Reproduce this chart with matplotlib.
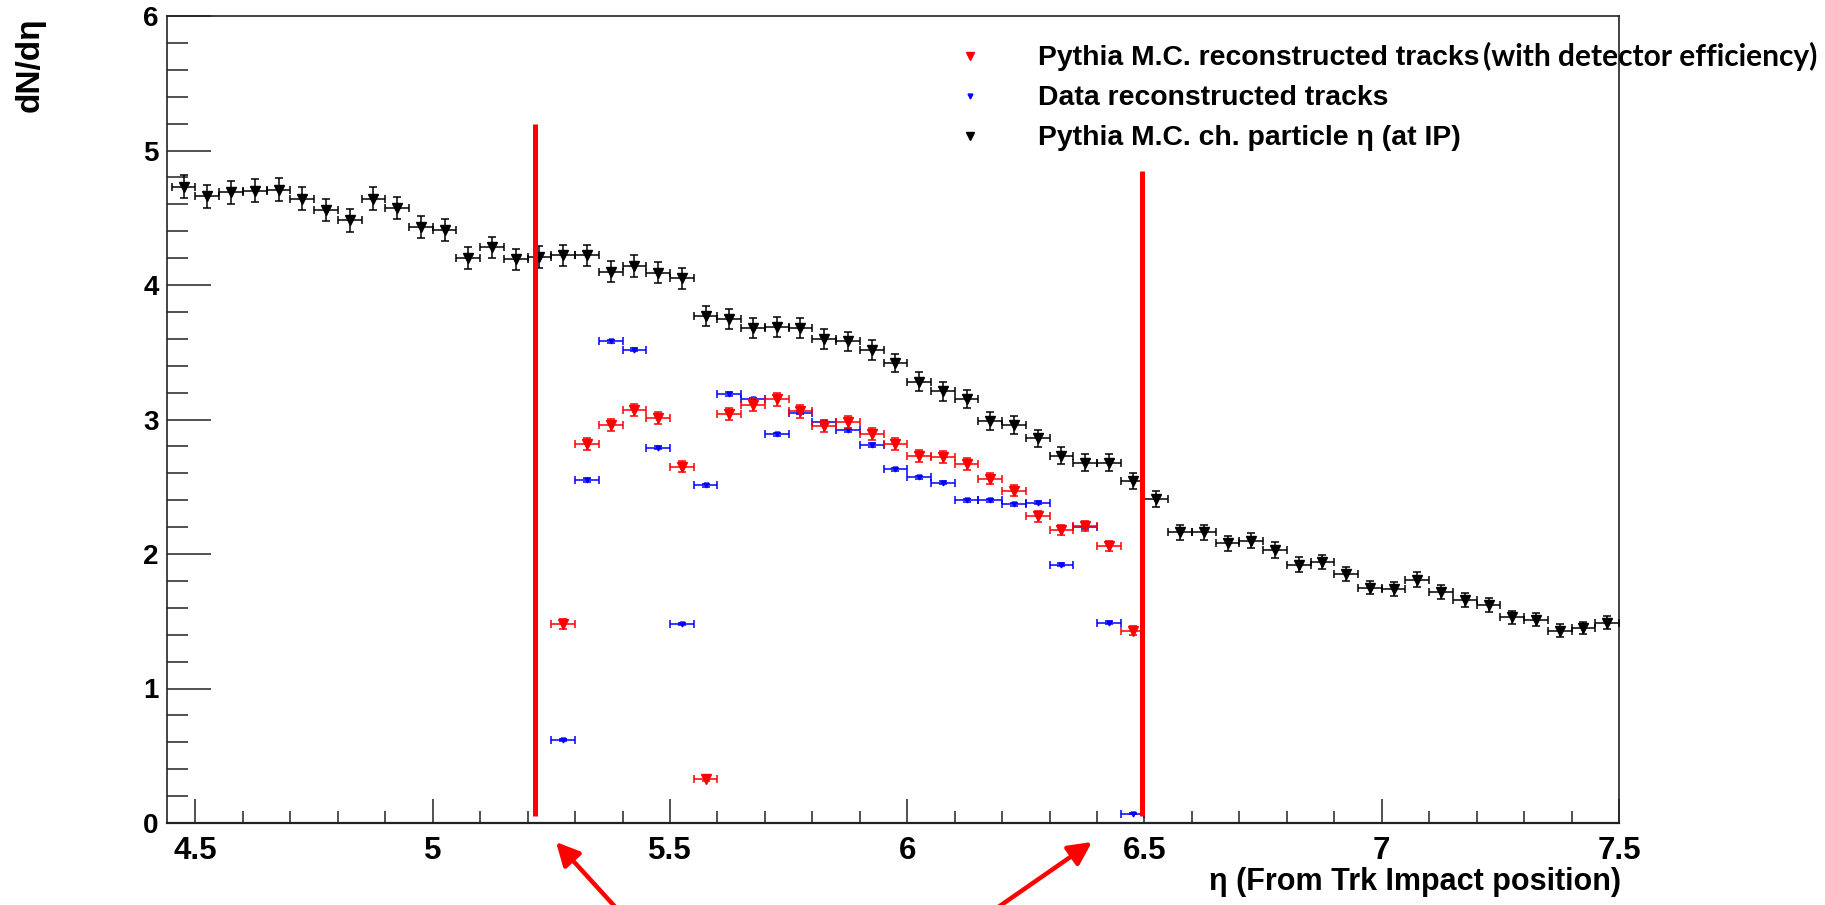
import matplotlib
matplotlib.use("Agg")
import matplotlib.pyplot as plt
from matplotlib.lines import Line2D
from matplotlib.ticker import MultipleLocator, FuncFormatter

W, H = 1825, 905

# bin centres, bin width 0.05
eta_full = [4.475, 4.525, 4.575, 4.625, 4.675, 4.725, 4.775, 4.825, 4.875, 4.925,
            4.975, 5.025, 5.075, 5.125, 5.175, 5.225, 5.275, 5.325, 5.375, 5.425,
            5.475, 5.525, 5.575, 5.625, 5.675, 5.725, 5.775, 5.825, 5.875, 5.925,
            5.975, 6.025, 6.075, 6.125, 6.175, 6.225, 6.275, 6.325, 6.375, 6.425,
            6.475, 6.525, 6.575, 6.625, 6.675, 6.725, 6.775, 6.825, 6.875, 6.925,
            6.975, 7.025, 7.075, 7.125, 7.175, 7.225, 7.275, 7.325, 7.375, 7.425,
            7.475]
dndeta_gen = [4.73, 4.66, 4.69, 4.70, 4.71, 4.64, 4.56, 4.48, 4.64, 4.57,
              4.43, 4.41, 4.20, 4.28, 4.19, 4.21, 4.22, 4.22, 4.10, 4.14,
              4.09, 4.05, 3.77, 3.75, 3.68, 3.69, 3.68, 3.60, 3.58, 3.52,
              3.42, 3.28, 3.21, 3.15, 2.99, 2.96, 2.86, 2.73, 2.68, 2.68,
              2.54, 2.41, 2.16, 2.16, 2.08, 2.10, 2.03, 1.92, 1.94, 1.85,
              1.75, 1.74, 1.81, 1.72, 1.66, 1.62, 1.53, 1.51, 1.43, 1.45,
              1.49]
err_gen = [0.085, 0.085, 0.085, 0.085, 0.085, 0.085, 0.083, 0.083, 0.085, 0.083,
           0.083, 0.083, 0.080, 0.080, 0.080, 0.080, 0.080, 0.080, 0.078, 0.080,
           0.078, 0.078, 0.074, 0.074, 0.074, 0.074, 0.074, 0.074, 0.074, 0.074,
           0.070, 0.070, 0.070, 0.067, 0.067, 0.067, 0.064, 0.064, 0.064, 0.064,
           0.060, 0.060, 0.057, 0.057, 0.057, 0.057, 0.057, 0.054, 0.054, 0.054,
           0.051, 0.051, 0.054, 0.051, 0.051, 0.051, 0.048, 0.048, 0.048, 0.048,
           0.048]

eta_reco = [5.275, 5.325, 5.375, 5.425, 5.475, 5.525, 5.575, 5.625, 5.675, 5.725,
            5.775, 5.825, 5.875, 5.925, 5.975, 6.025, 6.075, 6.125, 6.175, 6.225,
            6.275, 6.325, 6.375, 6.425, 6.475]
dndeta_mc_reco = [1.48, 2.82, 2.96, 3.07, 3.01, 2.65, 0.33, 3.04, 3.11, 3.15,
                  3.06, 2.95, 2.98, 2.89, 2.82, 2.73, 2.72, 2.67, 2.56, 2.47,
                  2.28, 2.18, 2.21, 2.06, 1.43]
err_mc_reco = [0.035, 0.045, 0.045, 0.047, 0.047, 0.043, 0.020, 0.047, 0.047, 0.048,
               0.047, 0.045, 0.045, 0.045, 0.045, 0.044, 0.044, 0.043, 0.042, 0.042,
               0.040, 0.039, 0.039, 0.038, 0.032]
dndeta_data = [0.62, 2.55, 3.58, 3.52, 2.79, 1.48, 2.51, 3.19, 3.15, 2.89,
               3.05, 2.98, 2.92, 2.81, 2.63, 2.57, 2.53, 2.40, 2.40, 2.37,
               2.38, 1.92, 2.20, 1.49, 0.07]
err_data = [0.008, 0.012, 0.014, 0.014, 0.012, 0.010, 0.012, 0.013, 0.013, 0.012,
            0.012, 0.012, 0.012, 0.012, 0.012, 0.012, 0.012, 0.011, 0.011, 0.011,
            0.011, 0.010, 0.011, 0.009, 0.004]
half_bin = 0.025

# acceptance cut lines: (eta, top)
cut_eta = [5.215, 6.495]
cut_top = [5.20, 4.85]
cut_bottom = 0.05

legend_labels = ["Pythia M.C. reconstructed tracks",
                 "Data reconstructed tracks",
                 "Pythia M.C. ch. particle \u03b7 (at IP)"]
legend_note = "(with detector efficiency)"
xlabel = "\u03b7 (From Trk Impact position)"
ylabel = "dN/d\u03b7"

FONT = ["Liberation Sans", "DejaVu Sans"]

fig = plt.figure(figsize=(W / 100, H / 100), dpi=100)
ax = fig.add_axes([167 / W, 1 - 823 / H, (1619 - 167) / W, (823 - 16) / H])

ebar = dict(fmt="v", elinewidth=1.1, capsize=2.6, capthick=1.1)
ax.errorbar(eta_reco, dndeta_data, xerr=half_bin, yerr=err_data,
            color="#0000ff", ms=3.5, zorder=3, **ebar)
ax.errorbar(eta_reco, dndeta_mc_reco, xerr=half_bin, yerr=err_mc_reco,
            color="#ff0000", ms=7.5, zorder=4, **ebar)
ax.errorbar(eta_full, dndeta_gen, xerr=half_bin, yerr=err_gen,
            color="black", ms=7, zorder=5, **ebar)

for x, top in zip(cut_eta, cut_top):
    ax.plot([x, x], [cut_bottom, top], color="#ff0000", lw=3.6,
            solid_capstyle="butt", zorder=6)

ax.set_xlim(4.44, 7.5)
ax.set_ylim(0, 6)
ax.xaxis.set_major_locator(MultipleLocator(0.5))
ax.xaxis.set_minor_locator(MultipleLocator(0.1))
ax.yaxis.set_major_locator(MultipleLocator(1))
ax.yaxis.set_minor_locator(MultipleLocator(0.2))
ax.xaxis.set_major_formatter(FuncFormatter(lambda v, p: f"{v:g}"))
ax.yaxis.set_major_formatter(FuncFormatter(lambda v, p: f"{v:g}"))

ax.tick_params(axis="both", which="both", direction="in", top=False, right=False,
               width=1.1, color="#222222")
ax.tick_params(axis="x", which="major", length=17, pad=9)
ax.tick_params(axis="x", which="minor", length=8.6)
ax.tick_params(axis="y", which="major", length=32, pad=6)
ax.tick_params(axis="y", which="minor", length=15)
for lab in ax.get_xticklabels():
    lab.set_fontfamily(FONT)
    lab.set_fontweight("bold")
    lab.set_fontsize(22.5)
for lab in ax.get_yticklabels():
    lab.set_fontfamily(FONT)
    lab.set_fontweight("bold")
    lab.set_fontsize(20)
for sp in ax.spines.values():
    sp.set_linewidth(1.2)
    sp.set_color("#222222")
ax.spines["bottom"].set_linewidth(1.6)

# axis titles
fig.text(1621 / W, 1 - 890 / H, xlabel, ha="right", va="baseline",
         fontsize=22, fontweight="bold", family=FONT)
fig.text(30 / W, 1 - 17 / H, ylabel, ha="center", va="top", rotation=90,
         fontsize=24, fontweight="bold", family=FONT)

# legend
leg_colors = ["#ff0000", "#0000ff", "black"]
leg_ms = [6, 3.5, 5.5]
leg_y = [56, 96, 136]
for lab, col, ms, y in zip(legend_labels, leg_colors, leg_ms, leg_y):
    fig.add_artist(Line2D([970 / W], [1 - y / H], marker="v", color=col, ms=ms,
                          transform=fig.transFigure))
    fig.text(1038 / W, 1 - (y + 9) / H, lab, ha="left", va="baseline",
             fontsize=20.4, fontweight="bold", family=FONT)
fig.text(1483 / W, 1 - 66 / H, legend_note, ha="left", va="baseline",
         fontsize=21.5, fontweight="bold", family=["Lato", "DejaVu Sans"])

# annotation arrows pointing at the cut positions
for tail, head in [((618, 910), (556, 842)), ((994, 910), (1092, 842))]:
    ax.annotate("", xy=(head[0] / W, 1 - head[1] / H), xycoords="figure fraction",
                xytext=(tail[0] / W, 1 - tail[1] / H), textcoords="figure fraction",
                annotation_clip=False,
                arrowprops=dict(arrowstyle="-|>,head_length=0.7,head_width=0.35",
                                mutation_scale=20, color="#ff0000", lw=3.2,
                                shrinkA=0, shrinkB=0))

fig.savefig("out.png", dpi=100)
